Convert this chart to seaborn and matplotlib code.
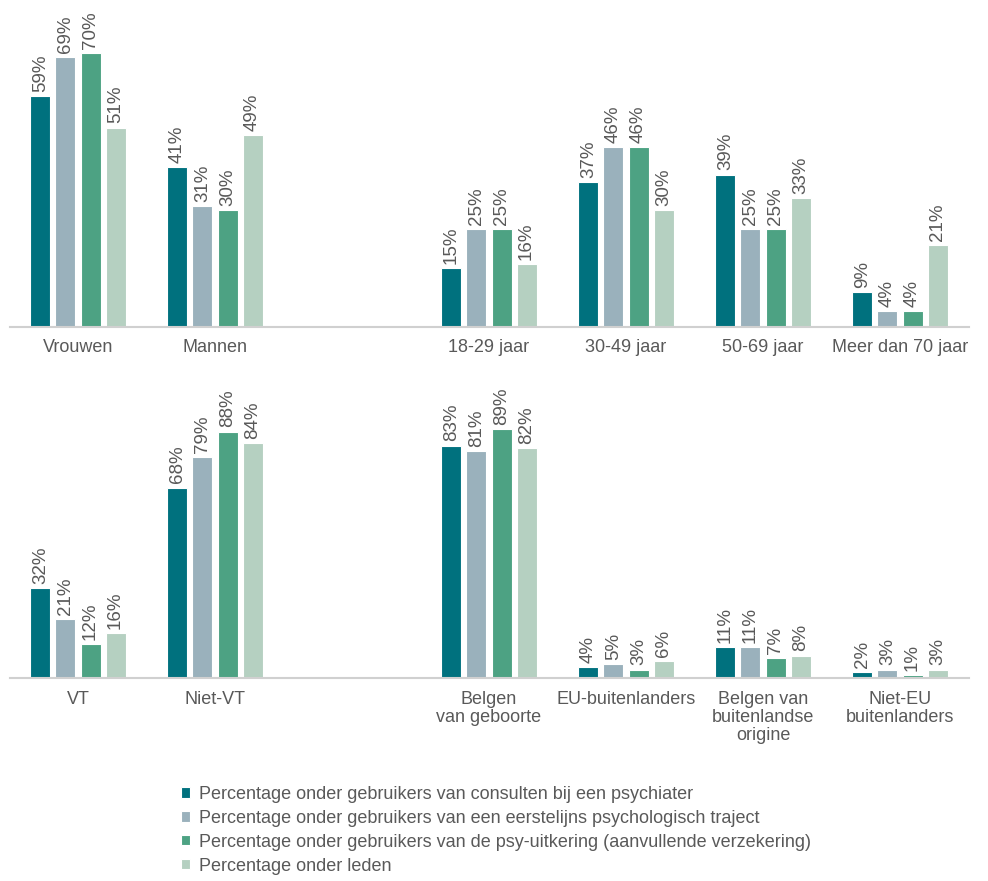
import matplotlib
matplotlib.use("Agg")
import matplotlib.pyplot as plt
import seaborn as sns
import pandas as pd
from matplotlib import font_manager

series = [
    "Percentage onder gebruikers van consulten bij een psychiater",
    "Percentage onder gebruikers van een eerstelijns psychologisch traject",
    "Percentage onder gebruikers van de psy-uitkering (aanvullende verzekering)",
    "Percentage onder leden",
]
colors = ["#00717E", "#9AB1BC", "#4DA283", "#B5D0C1"]

top_groups = ["Vrouwen", "Mannen", "18-29 jaar", "30-49 jaar", "50-69 jaar", "Meer dan 70 jaar"]
top_psychiater = [59, 41, 15, 37, 39, 9]
top_eerstelijns = [69, 31, 25, 46, 25, 4]
top_psy = [70, 30, 25, 46, 25, 4]
top_leden = [51, 49, 16, 30, 33, 21]

bot_groups = ["VT", "Niet-VT", "Belgen\nvan geboorte", "EU-buitenlanders",
              "Belgen van\nbuitenlandse\norigine", "Niet-EU\nbuitenlanders"]
bot_psychiater = [32, 68, 83, 4, 11, 2]
bot_eerstelijns = [21, 79, 81, 5, 11, 3]
bot_psy = [12, 88, 89, 3, 7, 1]
bot_leden = [16, 84, 82, 6, 8, 3]

sns.set_theme(style="white")
avail = {f.name for f in font_manager.fontManager.ttflist}
fam = "Liberation Sans Narrow" if "Liberation Sans Narrow" in avail else "Liberation Sans"
plt.rcParams["font.family"] = [fam, "DejaVu Sans"]

TXT = "#595959"


def make_df(groups, vals):
    rows = []
    for s, v in zip(series, vals):
        for g, x in zip(groups, v):
            rows.append({"group": g, "series": s, "value": x})
    return pd.DataFrame(rows)


df_top = make_df(top_groups, [top_psychiater, top_eerstelijns, top_psy, top_leden])
df_bot = make_df(bot_groups, [bot_psychiater, bot_eerstelijns, bot_psy, bot_leden])

W, H = 988, 881
fig = plt.figure(figsize=(W / 100, H / 100), dpi=100)

ax_top = fig.add_axes([9.5 / W, 1 - 327 / H, 959 / W, 327 / H])
ax_bot = fig.add_axes([9.5 / W, 1 - 678 / H, 959 / W, 318 / H])


def draw(ax, df, groups, ymax):
    order = groups[:2] + [" "] + groups[2:]
    sns.barplot(data=df, x="group", y="value", hue="series", order=order,
                hue_order=series, palette=colors, saturation=1,
                width=0.73, gap=0.2,
                edgecolor="white", linewidth=0.8, ax=ax, legend=True)
    ax.set_xlim(-0.5, 6.5)
    ax.set_ylim(0, ymax)
    ax.set_xlabel("")
    ax.set_ylabel("")
    ax.set_yticks([])
    for side in ["top", "right", "left"]:
        ax.spines[side].set_visible(False)
    ax.spines["bottom"].set_color("#D0D0D0")
    ax.spines["bottom"].set_linewidth(1.5)
    ax.tick_params(axis="x", length=0, pad=9, labelsize=13, labelcolor=TXT)
    for lab in ax.get_xticklabels():
        lab.set_linespacing(1.1)
        lab.set_verticalalignment("top")
    for c in ax.containers:
        ax.bar_label(c, fmt="{:.0f}%", rotation=90, padding=3,
                     fontsize=13.5, color=TXT)
    ax.set_facecolor("none")


draw(ax_top, df_top, top_groups, 327 / 3.91)
draw(ax_bot, df_bot, bot_groups, 318 / 2.8)

handles, labels = ax_top.get_legend_handles_labels()
ax_top.get_legend().remove()
ax_bot.get_legend().remove()

fig.legend(handles, labels, loc="upper left",
           bbox_to_anchor=(181 / W, 1 - 786 / H), frameon=False,
           fontsize=13, labelcolor=TXT, handlelength=0.5, handleheight=0.5,
           handletextpad=0.5, labelspacing=0.38, borderpad=0, borderaxespad=0)

fig.savefig("out.png", dpi=100)
